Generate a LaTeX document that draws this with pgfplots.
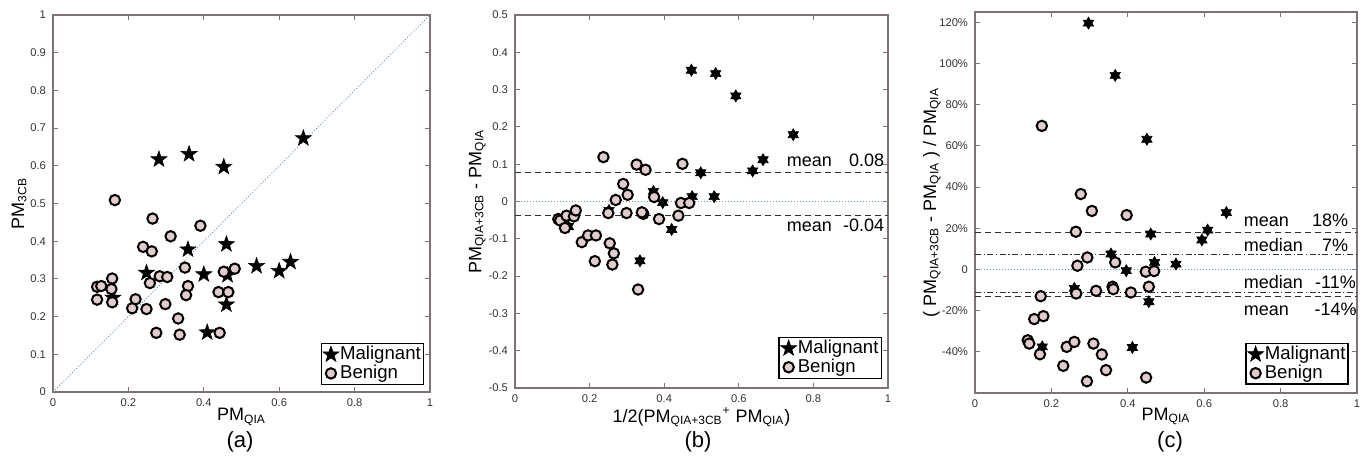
\documentclass[border=0pt]{standalone}
\usepackage{fontspec}
\setmainfont{Liberation Sans}
\usepackage{pgfplots}
\pgfplotsset{compat=1.18}

\definecolor{benign}{RGB}{224,204,204}
\definecolor{framegray}{RGB}{125,115,115}
\definecolor{dotblue}{RGB}{110,150,190}
\definecolor{dashdark}{RGB}{40,50,60}

% filled five-point star
\pgfdeclareplotmark{pentastar}{%
  \pgfpathmoveto{\pgfpointpolar{90}{\pgfplotmarksize}}%
  \pgfpathlineto{\pgfpointpolar{126}{0.4\pgfplotmarksize}}%
  \pgfpathlineto{\pgfpointpolar{162}{\pgfplotmarksize}}%
  \pgfpathlineto{\pgfpointpolar{198}{0.4\pgfplotmarksize}}%
  \pgfpathlineto{\pgfpointpolar{234}{\pgfplotmarksize}}%
  \pgfpathlineto{\pgfpointpolar{270}{0.4\pgfplotmarksize}}%
  \pgfpathlineto{\pgfpointpolar{306}{\pgfplotmarksize}}%
  \pgfpathlineto{\pgfpointpolar{342}{0.4\pgfplotmarksize}}%
  \pgfpathlineto{\pgfpointpolar{18}{\pgfplotmarksize}}%
  \pgfpathlineto{\pgfpointpolar{54}{0.4\pgfplotmarksize}}%
  \pgfpathclose
  \pgfusepathqfillstroke}
% filled six-point star (hexagram)
\pgfdeclareplotmark{hexastar}{%
  \pgfpathmoveto{\pgfpointpolar{90}{\pgfplotmarksize}}%
  \pgfpathlineto{\pgfpointpolar{120}{0.58\pgfplotmarksize}}%
  \pgfpathlineto{\pgfpointpolar{150}{\pgfplotmarksize}}%
  \pgfpathlineto{\pgfpointpolar{180}{0.58\pgfplotmarksize}}%
  \pgfpathlineto{\pgfpointpolar{210}{\pgfplotmarksize}}%
  \pgfpathlineto{\pgfpointpolar{240}{0.58\pgfplotmarksize}}%
  \pgfpathlineto{\pgfpointpolar{270}{\pgfplotmarksize}}%
  \pgfpathlineto{\pgfpointpolar{300}{0.58\pgfplotmarksize}}%
  \pgfpathlineto{\pgfpointpolar{330}{\pgfplotmarksize}}%
  \pgfpathlineto{\pgfpointpolar{0}{0.58\pgfplotmarksize}}%
  \pgfpathlineto{\pgfpointpolar{30}{\pgfplotmarksize}}%
  \pgfpathlineto{\pgfpointpolar{60}{0.58\pgfplotmarksize}}%
  \pgfpathclose
  \pgfusepathqfillstroke}

\tikzset{note/.style={inner sep=0pt, font=\fontsize{9}{10}\selectfont}}

\pgfplotsset{
  panel/.style={
    scale only axis, xmin=0, xmax=1,
    axis line style={framegray, line width=0.6pt},
    tick style={framegray, line width=0.5pt},
    major tick length=2.5pt,
    tick label style={font=\fontsize{5.6}{6}\selectfont, color=black!80},
    label style={font=\fontsize{9}{10}\selectfont},
    xtick={0,0.2,0.4,0.6,0.8,1}, xticklabels={0,0.2,0.4,0.6,0.8,1},
    legend style={font=\fontsize{9.3}{11}\selectfont, draw=black, line width=0.75pt,
      inner sep=0.8pt, anchor=south east, legend cell align=left,
      nodes={inner sep=0.6pt}},
  },
  mal/.style={only marks, mark=pentastar, mark size=4.2pt,
    mark options={fill=black, draw=black, line width=0.3pt},
    legend image code/.code={\draw[##1] plot coordinates {(0.15cm,0cm)};}},
  malhex/.style={only marks, mark=hexastar, mark size=3pt,
    mark options={fill=black, draw=black, line width=0.3pt},
    legend image code/.code={\draw[##1, mark=pentastar, mark size=4.2pt] plot coordinates {(0.15cm,0cm)};}},
  ben/.style={only marks, mark=*, mark size=2.6pt,
    mark options={fill=benign, draw=black, line width=1pt},
    legend image code/.code={\draw[##1] plot coordinates {(0.15cm,0cm)};}},
  dotline/.style={dotblue, line width=0.5pt, dash pattern=on 0.5pt off 1pt, forget plot},
  meanline/.style={dashdark, line width=0.6pt, dash pattern=on 3pt off 2pt, forget plot},
  medline/.style={dashdark, line width=0.45pt, dash pattern=on 3pt off 1.3pt on 0.6pt off 1.3pt, forget plot},
}

\begin{document}
\begin{tikzpicture}
\path[use as bounding box] (0,0) rectangle (682pt,229.5pt);

% ---------- (a) ----------
\begin{axis}[panel,
  at={(26.5pt,33.5pt)}, anchor=south west,
  width=188.5pt, height=188.5pt,
  ymin=0, ymax=1,
  ytick={0,0.1,0.2,0.3,0.4,0.5,0.6,0.7,0.8,0.9,1},
  yticklabels={0,0.1,0.2,0.3,0.4,0.5,0.6,0.7,0.8,0.9,1},
  xlabel={PM\textsubscript{QIA}},
  ylabel={PM\textsubscript{3CB}},
  xlabel style={at={(axis description cs:0.5,-0.066)}, anchor=center},
  ylabel style={at={(axis description cs:-0.090,0.5)}, anchor=center},
  legend style={at={(0.985,0.018)}},
]
\addplot[dotline] coordinates {(0,0) (1,1)};
\addplot[mal] coordinates {
(0.281,0.617) (0.361,0.631) (0.453,0.597) (0.664,0.673) (0.358,0.378)
(0.460,0.392) (0.248,0.316) (0.400,0.312) (0.463,0.310) (0.540,0.334)
(0.600,0.321) (0.630,0.345) (0.159,0.250) (0.460,0.232) (0.409,0.158)};
\addplot[ben] coordinates {
(0.164,0.509) (0.264,0.460) (0.391,0.441) (0.312,0.413) (0.239,0.385)
(0.262,0.373) (0.350,0.330) (0.157,0.301) (0.257,0.289) (0.283,0.307)
(0.303,0.305) (0.453,0.319) (0.482,0.327) (0.117,0.279) (0.128,0.281)
(0.155,0.273) (0.358,0.281) (0.117,0.245) (0.157,0.238) (0.219,0.246)
(0.210,0.222) (0.248,0.220) (0.298,0.233) (0.353,0.257) (0.439,0.265)
(0.465,0.265) (0.332,0.195) (0.274,0.157) (0.336,0.152) (0.442,0.157)};
\legend{Malignant,Benign}
\end{axis}

% ---------- (b) ----------
\begin{axis}[panel,
  at={(257.5pt,35.5pt)}, anchor=south west,
  width=186.5pt, height=186.5pt,
  ymin=-0.5, ymax=0.5,
  ytick={-0.5,-0.4,-0.3,-0.2,-0.1,0,0.1,0.2,0.3,0.4,0.5},
  yticklabels={-0.5,-0.4,-0.3,-0.2,-0.1,0,0.1,0.2,0.3,0.4,0.5},
  xlabel={1/2(PM\textsubscript{QIA+3CB}\textsuperscript{+} PM\textsubscript{QIA})},
  ylabel={PM\textsubscript{QIA+3CB} - PM\textsubscript{QIA}},
  xlabel style={at={(axis description cs:0.5,-0.079)}, anchor=center},
  ylabel style={at={(axis description cs:-0.101,0.5)}, anchor=center},
  legend style={at={(0.984,0.024)}},
]
\addplot[dotline] coordinates {(0,0) (1,0)};
\addplot[meanline] coordinates {(0,0.077) (1,0.077)};
\addplot[meanline] coordinates {(0,-0.037) (1,-0.037)};
\addplot[malhex] coordinates {
(0.473,0.352) (0.538,0.343) (0.592,0.283) (0.746,0.179) (0.665,0.112)
(0.637,0.082) (0.498,0.077) (0.371,0.027) (0.475,0.013) (0.534,0.013)
(0.396,-0.003) (0.252,-0.024) (0.420,-0.075) (0.143,-0.067) (0.335,-0.159)};
\addplot[ben] coordinates {
(0.237,0.119) (0.326,0.099) (0.350,0.085) (0.449,0.101) (0.290,0.047)
(0.302,0.018) (0.270,0.004) (0.373,0.012) (0.445,-0.004) (0.467,-0.004)
(0.250,-0.031) (0.299,-0.031) (0.344,-0.033) (0.340,-0.029) (0.386,-0.047)
(0.438,-0.038) (0.116,-0.047) (0.121,-0.051) (0.138,-0.038) (0.134,-0.071)
(0.158,-0.040) (0.163,-0.024) (0.179,-0.109) (0.196,-0.091) (0.217,-0.091)
(0.214,-0.160) (0.254,-0.112) (0.265,-0.139) (0.261,-0.169) (0.330,-0.236)};
\legend{Malignant,Benign}
\node[note, anchor=base west] at (axis cs:0.728,0.095) {mean};
\node[note, anchor=base east] at (axis cs:0.991,0.095) {0.08};
\node[note, anchor=base west] at (axis cs:0.728,-0.081) {mean};
\node[note, anchor=base east] at (axis cs:0.991,-0.081) {-0.04};
\end{axis}

% ---------- (c) ----------
\begin{axis}[panel,
  at={(487.5pt,33pt)}, anchor=south west,
  width=191pt, height=190.5pt,
  ymin=-0.6, ymax=1.25,
  ytick={-0.4,-0.2,0,0.2,0.4,0.6,0.8,1.0,1.2},
  yticklabels={-40\%,-20\%,0,20\%,40\%,60\%,80\%,100\%,120\%},
  xlabel={PM\textsubscript{QIA}},
  ylabel={( PM\textsubscript{QIA+3CB} - PM\textsubscript{QIA} ) / PM\textsubscript{QIA}},
  xlabel style={at={(axis description cs:0.5,-0.062)}, anchor=center},
  ylabel style={at={(axis description cs:-0.113,0.5)}, anchor=center},
  legend style={at={(0.979,0.021)}},
]
\addplot[dotline] coordinates {(0,0) (1,0)};
\addplot[meanline] coordinates {(0,0.18) (1,0.18)};
\addplot[medline] coordinates {(0,0.075) (1,0.075)};
\addplot[medline] coordinates {(0,-0.112) (1,-0.112)};
\addplot[meanline] coordinates {(0,-0.13) (1,-0.13)};
\addplot[malhex] coordinates {
(0.297,1.196) (0.367,0.942) (0.450,0.632) (0.658,0.276) (0.609,0.191)
(0.594,0.143) (0.460,0.172) (0.356,0.075) (0.470,0.034) (0.526,0.026)
(0.396,-0.006) (0.260,-0.092) (0.455,-0.157) (0.176,-0.376) (0.412,-0.379)};
\addplot[ben] coordinates {
(0.175,0.697) (0.277,0.366) (0.306,0.284) (0.397,0.264) (0.264,0.183)
(0.294,0.058) (0.268,0.018) (0.367,0.034) (0.447,-0.011) (0.469,-0.008)
(0.455,-0.084) (0.265,-0.117) (0.317,-0.104) (0.360,-0.084) (0.362,-0.096)
(0.408,-0.112) (0.172,-0.130) (0.155,-0.241) (0.179,-0.227) (0.138,-0.344)
(0.142,-0.360) (0.170,-0.412) (0.240,-0.376) (0.260,-0.352) (0.310,-0.360)
(0.332,-0.413) (0.231,-0.468) (0.343,-0.489) (0.293,-0.543) (0.448,-0.525)};
\legend{Malignant,Benign}
\node[note, anchor=base west] at (axis cs:0.703,0.207) {mean};
\node[note, anchor=base east] at (axis cs:0.978,0.207) {18\%};
\node[note, anchor=base west] at (axis cs:0.703,0.086) {median};
\node[note, anchor=base east] at (axis cs:0.978,0.086) {7\%};
\node[note, anchor=base west] at (axis cs:0.703,-0.092) {median};
\node[note, anchor=base east] at (axis cs:0.998,-0.092) {-11\%};
\node[note, anchor=base west] at (axis cs:0.703,-0.222) {mean};
\node[note, anchor=base east] at (axis cs:1.0,-0.222) {-14\%};
\end{axis}

\node[font=\fontsize{11}{12}\selectfont] at (120pt,8.5pt) {(a)};
\node[font=\fontsize{11}{12}\selectfont] at (349pt,8.5pt) {(b)};
\node[font=\fontsize{11}{12}\selectfont] at (585pt,8.5pt) {(c)};
\end{tikzpicture}
\end{document}
